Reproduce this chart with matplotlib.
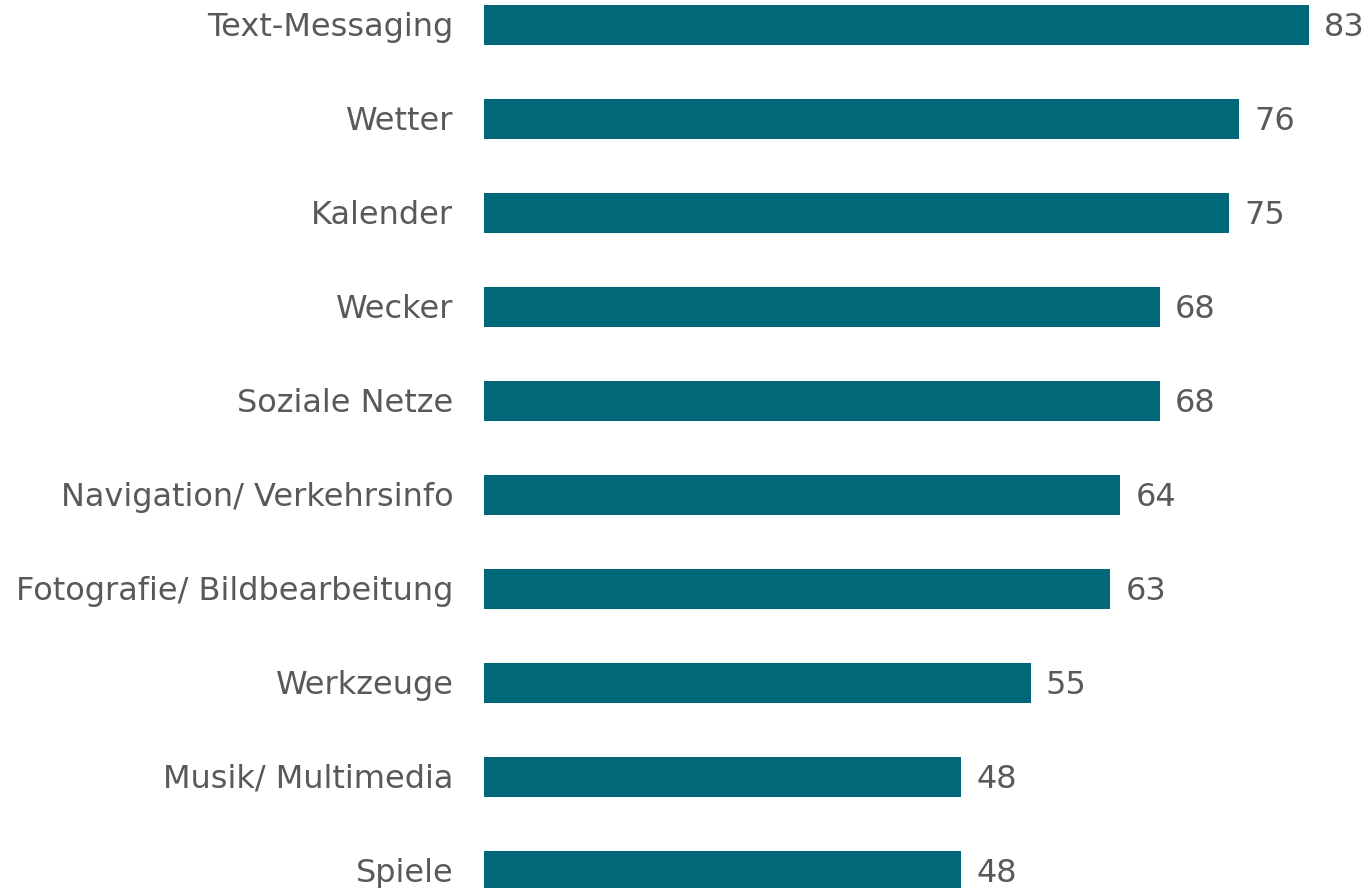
import matplotlib
matplotlib.use("Agg")
import matplotlib.pyplot as plt

plt.rcParams["font.family"] = ["DejaVu Sans"]

# app categories, top to bottom
categories = ["Text-Messaging", "Wetter", "Kalender", "Wecker", "Soziale Netze",
              "Navigation/ Verkehrsinfo", "Fotografie/ Bildbearbeitung",
              "Werkzeuge", "Musik/ Multimedia", "Spiele"]
values = [83, 76, 75, 68, 68, 64, 63, 55, 48, 48]

bar_color = "#006878"
text_color = "#595959"

fig = plt.figure(figsize=(13.72, 8.88), dpi=100)
# bars start at x=484px, first bar centre at y=25px, 94px pitch
ax = fig.add_axes([484 / 1372, 0, 1 - 484 / 1372, 1])

pos = list(range(len(categories)))
ax.barh(pos, values, height=40 / 94, color=bar_color)
ax.set_xlim(0, 888 / 9.94)
ax.set_ylim((888 - 25) / 94, -25 / 94)

for p, v in zip(pos, values):
    ax.annotate(str(v), (v, p), xytext=(11, -2), textcoords="offset points",
                va="center", ha="left", fontsize=23, color=text_color)
    ax.annotate(categories[p], (0, p), xytext=(-22, -1.5), textcoords="offset points",
                va="center", ha="right", fontsize=23, color=text_color,
                annotation_clip=False)

ax.axis("off")
fig.savefig("out.png", dpi=100)
